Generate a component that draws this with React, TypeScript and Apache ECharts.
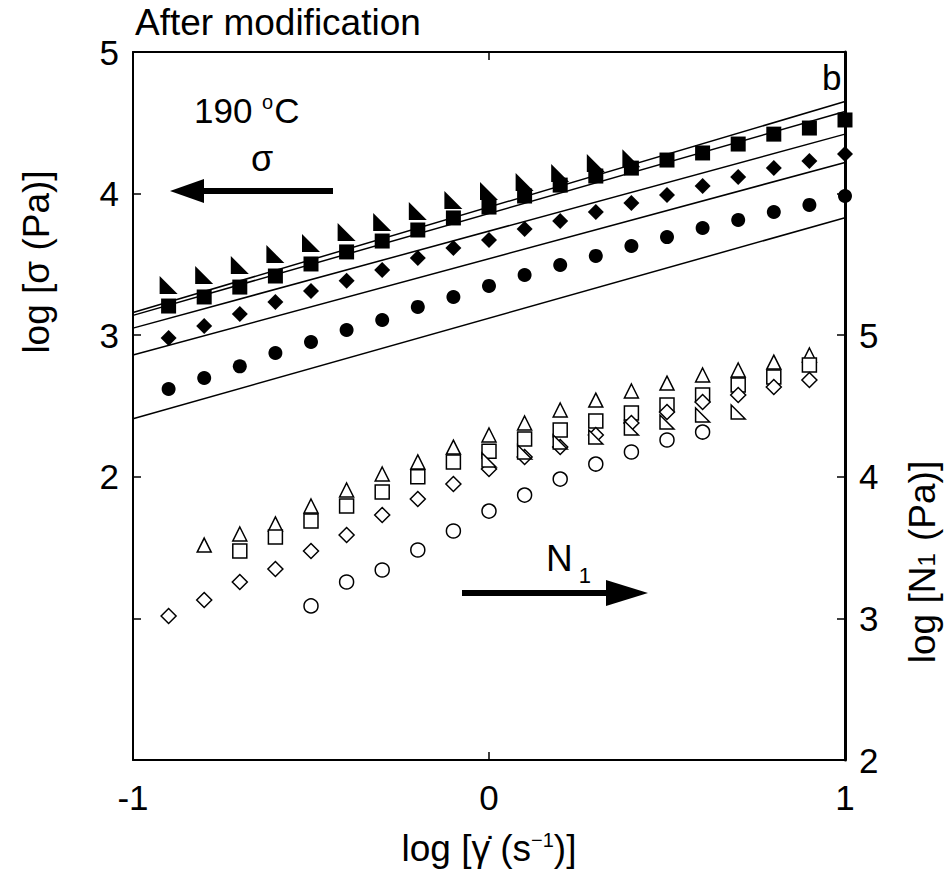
import React, { useEffect, useRef } from "react";
import * as echarts from "echarts";

// x positions (log shear rate)
const xSigmaFull = [-0.9, -0.8, -0.7, -0.6, -0.5, -0.4, -0.3, -0.2, -0.1, 0, 0.1, 0.2, 0.3, 0.4, 0.5, 0.6, 0.7, 0.8, 0.9, 1.0];
const xWedge = [-0.9, -0.8, -0.7, -0.6, -0.5, -0.4, -0.3, -0.2, -0.1, 0, 0.1, 0.2, 0.3, 0.4];

// filled markers: log sigma (left axis)
const sigmaWedge = [3.355, 3.425, 3.496, 3.573, 3.651, 3.729, 3.8, 3.877, 3.955, 4.018, 4.082, 4.145, 4.216, 4.25];
const sigmaSquare = [3.206, 3.27, 3.34, 3.418, 3.503, 3.588, 3.665, 3.743, 3.828, 3.905, 3.983, 4.06, 4.124, 4.18, 4.237, 4.287, 4.35, 4.42, 4.463, 4.52];
const sigmaDiamond = [2.98, 3.065, 3.15, 3.234, 3.312, 3.385, 3.46, 3.545, 3.616, 3.672, 3.75, 3.807, 3.87, 3.934, 3.99, 4.054, 4.117, 4.18, 4.23, 4.28];
const sigmaCircle = [2.62, 2.698, 2.78, 2.874, 2.952, 3.037, 3.107, 3.2, 3.27, 3.348, 3.425, 3.496, 3.56, 3.63, 3.693, 3.757, 3.814, 3.87, 3.92, 3.983];

// fit lines (endpoints at x=-1 and x=1)
const fitX = [-1, 1];
const fit1 = [3.16, 4.65];
const fit2 = [3.14, 4.58];
const fit3 = [3.05, 4.42];
const fit4 = [2.86, 4.22];
const fit5 = [2.41, 3.83];

// open markers: log N1 (right axis)
const xN1Tri = [-0.8, -0.7, -0.6, -0.5, -0.4, -0.3, -0.2, -0.1, 0, 0.1, 0.2, 0.3, 0.4, 0.5, 0.6, 0.7, 0.8, 0.9];
const n1Tri = [3.518, 3.596, 3.667, 3.794, 3.907, 4.02, 4.105, 4.21, 4.295, 4.38, 4.472, 4.542, 4.606, 4.662, 4.719, 4.754, 4.81, 4.86];
const xN1Square = [-0.7, -0.6, -0.5, -0.4, -0.3, -0.2, -0.1, 0, 0.1, 0.2, 0.3, 0.4, 0.5, 0.6, 0.7, 0.8, 0.9];
const n1Square = [3.476, 3.575, 3.688, 3.794, 3.893, 4.0, 4.105, 4.18, 4.267, 4.33, 4.394, 4.45, 4.507, 4.578, 4.648, 4.705, 4.79];
const xN1Diamond = [-0.9, -0.8, -0.7, -0.6, -0.5, -0.4, -0.3, -0.2, -0.1, 0, 0.1, 0.2, 0.3, 0.4, 0.5, 0.6, 0.7, 0.8, 0.9];
const n1Diamond = [3.017, 3.13, 3.257, 3.349, 3.476, 3.589, 3.73, 3.843, 3.949, 4.055, 4.14, 4.21, 4.295, 4.38, 4.458, 4.528, 4.578, 4.634, 4.684];
const xN1Circle = [-0.5, -0.4, -0.3, -0.2, -0.1, 0, 0.1, 0.2, 0.3, 0.4, 0.5, 0.6];
const n1Circle = [3.088, 3.257, 3.342, 3.483, 3.617, 3.758, 3.871, 3.984, 4.09, 4.175, 4.26, 4.316];
const xN1Wedge = [0, 0.1, 0.2, 0.3, 0.4, 0.5, 0.6, 0.7];
const n1Wedge = [4.119, 4.175, 4.246, 4.281, 4.345, 4.387, 4.436, 4.458];

const zip = (xs: number[], ys: number[]) => xs.map((x, i) => [x, ys[i]]);

const FONT = "'Liberation Sans', Arial, sans-serif";
const WEDGE = "path://M0,0 L0,10 L10,10 Z";
const TICK_FS = 35;
const TITLE_FS = 37;

export default function App() {
  const ref = useRef<HTMLDivElement>(null);
  useEffect(() => {
    if (!ref.current) return;
    const chart = echarts.init(ref.current, null, { renderer: "svg" });

    const filled = (name: string, symbol: string, size: number, data: number[][], z = 3) => ({
      name,
      type: "scatter",
      yAxisIndex: 0,
      symbol,
      symbolSize: size,
      itemStyle: { color: "#000", opacity: 1 },
      data,
      z,
    });
    const open = (name: string, symbol: string, size: number, data: number[][]) => ({
      name,
      type: "scatter",
      yAxisIndex: 1,
      symbol,
      symbolSize: size,
      itemStyle: { color: "#fff", borderColor: "#000", borderWidth: 1.5, opacity: 1 },
      data,
      z: 3,
    });
    const fit = (name: string, ys: number[]) => ({
      name,
      type: "line",
      yAxisIndex: 0,
      symbol: "none",
      lineStyle: { color: "#000", width: 1.5 },
      data: zip(fitX, ys),
      z: 2,
    });

    chart.setOption({
      animation: false,
      backgroundColor: "#fff",
      textStyle: { fontFamily: FONT },
      grid: { left: 133, top: 52, width: 712, height: 708, show: false },
      xAxis: [
        {
          type: "value",
          position: "bottom",
          min: -1,
          max: 1,
          interval: 1,
          axisLine: { onZero: false, lineStyle: { color: "#000", width: 2 } },
          axisTick: { inside: true, length: 8, lineStyle: { color: "#000", width: 1.5 } },
          axisLabel: { color: "#000", fontSize: TICK_FS, fontFamily: FONT, margin: 20 },
          splitLine: { show: false },
          name: "log [γ̇ (s{sup|−1})]",
          nameLocation: "middle",
          nameGap: 70,
          nameTextStyle: {
            color: "#000",
            fontSize: TITLE_FS,
            fontFamily: FONT,
            rich: { sup: { fontSize: 20, verticalAlign: "top", padding: [0, 0, 16, 0], color: "#000", fontFamily: FONT } },
          },
        },
        {
          type: "value",
          position: "top",
          min: -1,
          max: 1,
          interval: 1,
          axisLine: { show: true, onZero: false, lineStyle: { color: "#000", width: 2 } },
          axisTick: { inside: true, length: 8, lineStyle: { color: "#000", width: 1.5 } },
          axisLabel: { show: false },
          splitLine: { show: false },
        },
      ],
      yAxis: [
        {
          type: "value",
          position: "left",
          min: 0,
          max: 5,
          interval: 1,
          axisLine: { show: true, onZero: false, lineStyle: { color: "#000", width: 2 } },
          axisTick: { show: true, inside: true, length: 8, lineStyle: { color: "#000", width: 1.5 } },
          axisLabel: {
            color: "#000",
            fontSize: TICK_FS,
            fontFamily: FONT,
            margin: 14,
            formatter: (v: number) => (v >= 2 ? String(v) : ""),
          },
          splitLine: { show: false },
        },
        {
          type: "value",
          position: "right",
          min: 2,
          max: 7,
          interval: 1,
          axisLine: { show: true, onZero: false, lineStyle: { color: "#000", width: 3 } },
          axisTick: { show: true, inside: true, length: 8, lineStyle: { color: "#000", width: 1.5 } },
          axisLabel: {
            color: "#000",
            fontSize: TICK_FS,
            fontFamily: FONT,
            margin: 14,
            formatter: (v: number) => (v <= 5 ? String(v) : ""),
          },
          splitLine: { show: false },
        },
      ],
      series: [
        fit("fit1", fit1),
        fit("fit2", fit2),
        fit("fit3", fit3),
        fit("fit4", fit4),
        fit("fit5", fit5),
        filled("σ wedge", WEDGE, 18, zip(xWedge, sigmaWedge), 3),
        filled("σ square", "rect", 15, zip(xSigmaFull, sigmaSquare), 4),
        filled("σ diamond", "diamond", 16, zip(xSigmaFull, sigmaDiamond), 4),
        filled("σ circle", "circle", 14, zip(xSigmaFull, sigmaCircle), 4),
        open("N1 triangle", "triangle", 14, zip(xN1Tri, n1Tri)),
        open("N1 square", "rect", 14, zip(xN1Square, n1Square)),
        open("N1 diamond", "diamond", 15, zip(xN1Diamond, n1Diamond)),
        open("N1 circle", "circle", 14, zip(xN1Circle, n1Circle)),
        open("N1 wedge", WEDGE, 14, zip(xN1Wedge, n1Wedge)),
      ],
      graphic: [
        {
          type: "text",
          left: 135,
          top: 4,
          style: { text: "After modification", fontSize: 37, fontFamily: FONT, fill: "#000" },
        },
        {
          type: "text",
          x: 36,
          y: 262,
          rotation: Math.PI / 2,
          style: {
            text: "log [σ (Pa)]",
            fontSize: TITLE_FS,
            fontFamily: FONT,
            fill: "#000",
            align: "center",
            verticalAlign: "middle",
          },
        },
        {
          type: "text",
          left: 194,
          top: 92,
          style: {
            text: "190 {sup|o}C",
            fontSize: 35,
            fontFamily: FONT,
            fill: "#000",
            rich: { sup: { fontSize: 20, verticalAlign: "top", padding: [0, 1, 16, 0], fontFamily: FONT, fill: "#000" } },
          },
        },
        {
          type: "text",
          left: 251,
          top: 140,
          style: { text: "σ", fontSize: 36, fontFamily: FONT, fill: "#000" },
        },
        {
          type: "text",
          left: 822,
          top: 60,
          style: { text: "b", fontSize: 35, fontFamily: FONT, fill: "#000" },
        },
        {
          type: "line",
          shape: { x1: 333, y1: 191, x2: 196, y2: 191 },
          style: { stroke: "#000", lineWidth: 6 },
        },
        {
          type: "polygon",
          shape: { points: [[170, 191], [204, 179], [204, 203]] },
          style: { fill: "#000" },
        },
        {
          type: "text",
          x: 546,
          y: 530,
          style: {
            text: "N{sub|1}",
            fontSize: 37,
            fontFamily: FONT,
            fill: "#000",
            rich: { sub: { fontSize: 22, fontFamily: FONT, fill: "#000", verticalAlign: "bottom", padding: [34, 0, 0, 6] } },
          },
        },
        {
          type: "line",
          shape: { x1: 462, y1: 593, x2: 616, y2: 593 },
          style: { stroke: "#000", lineWidth: 6 },
        },
        {
          type: "polygon",
          shape: { points: [[648, 593], [606, 580], [606, 606]] },
          style: { fill: "#000" },
        },
        {
          type: "text",
          x: 922,
          y: 562,
          rotation: Math.PI / 2,
          style: {
            text: "log [N{sub|1} (Pa)]",
            fontSize: TITLE_FS,
            fontFamily: FONT,
            fill: "#000",
            align: "center",
            verticalAlign: "middle",
            rich: { sub: { fontSize: 24, fontFamily: FONT, fill: "#000", padding: [8, 2, 0, 0] } },
          },
        },
      ],
    });
    return () => chart.dispose();
  }, []);
  return (
    <div
      ref={ref}
      style={{ position: "absolute", left: 0, top: 0, width: 946, height: 872, background: "#fff" }}
    />
  );
}
